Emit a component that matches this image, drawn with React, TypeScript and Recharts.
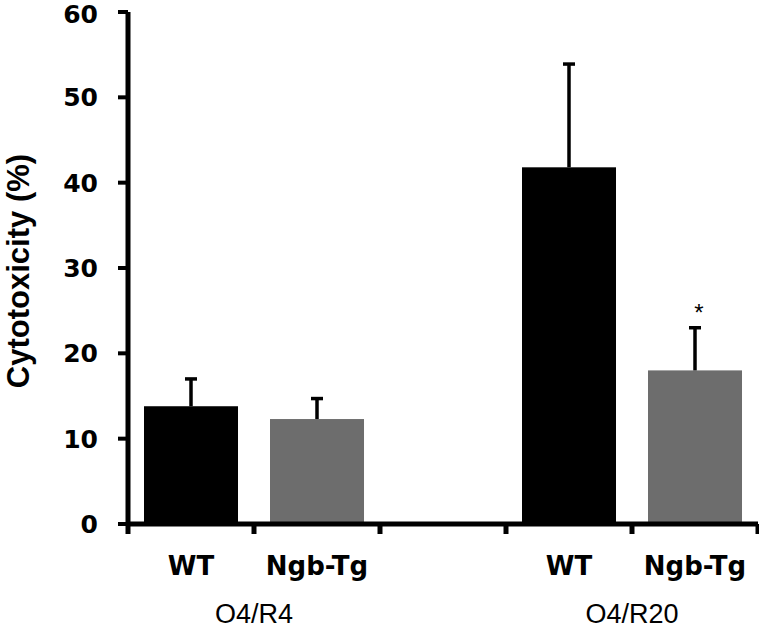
import React from 'react';
import { BarChart, Bar, XAxis, YAxis, Cell } from 'recharts';

const categories = ['WT', 'Ngb-Tg', '', 'WT', 'Ngb-Tg'];
const groupLabels = ['O4/R4', '', '', 'O4/R20', ''];
const cytotoxicity = [13.8, 12.3, null, 41.8, 18.0];
const sem = [3.2, 2.4, null, 12.1, 5.0];
const marks = ['', '', '', '', '*'];
const barColors = ['#000000', '#6d6d6d', '#000000', '#000000', '#6d6d6d'];
const yTicks = [0, 10, 20, 30, 40, 50, 60];

const data = categories.map((c, i) => ({
  key: `c${i}`,
  category: c,
  value: cytotoxicity[i],
  err: sem[i],
  mark: marks[i],
}));

const BOLD = 'DejaVu Sans, Verdana, sans-serif';
const ARIAL = 'Liberation Sans, Arial, sans-serif';

const XTick = (props: any) => {
  const { x, y, index, payload } = props;
  const half = payload && typeof payload.offset === 'number' && payload.offset > 0 ? payload.offset : 63;
  const last = index === categories.length - 1;
  return (
    <g>
      <line x1={x - half} x2={x - half} y1={y} y2={y + 10} stroke="#000" strokeWidth={5} />
      {last && <line x1={x + half} x2={x + half} y1={y} y2={y + 10} stroke="#000" strokeWidth={5} />}
      <text x={x} y={y + 51} textAnchor="middle" fontFamily={BOLD} fontWeight="bold" fontSize={26} fill="#000">
        {categories[index]}
      </text>
      {groupLabels[index] ? (
        <text x={x + half} y={y + 99} textAnchor="middle" fontFamily={ARIAL} fontSize={27} fill="#000">
          {groupLabels[index]}
        </text>
      ) : null}
    </g>
  );
};

const YTick = (props: any) => {
  const { x, y, payload } = props;
  const ty = y < 20 ? y + 2 : y;
  return (
    <text x={x} y={ty + 9} textAnchor="end" fontFamily={BOLD} fontWeight="bold" fontSize={25} fill="#000">
      {payload.value}
    </text>
  );
};

const BarWithError = (props: any) => {
  const { x, y, width, height, fill, payload } = props;
  if (!payload || payload.value == null || !height) return null;
  const pxPerUnit = height / payload.value;
  const errTop = y - payload.err * pxPerUnit;
  const cx = x + width / 2;
  return (
    <g>
      <rect x={x} y={y} width={width} height={height} fill={fill} />
      <line x1={cx} x2={cx} y1={y} y2={errTop} stroke="#000" strokeWidth={3.5} />
      <line x1={cx - 6} x2={cx + 6} y1={errTop} y2={errTop} stroke="#000" strokeWidth={3.5} />
      {payload.mark ? (
        <text x={cx + 4} y={errTop - 7} textAnchor="middle" fontFamily={ARIAL} fontSize={24} fill="#000">
          {payload.mark}
        </text>
      ) : null}
    </g>
  );
};

const YTitle = (props: any) => {
  const vb = props.viewBox || { x: 0, y: 12, width: 128, height: 512 };
  const cx = 18;
  const cy = vb.y + vb.height / 2 + 3;
  return (
    <text
      x={cx}
      y={cy}
      transform={`rotate(-90, ${cx}, ${cy})`}
      textAnchor="middle"
      dominantBaseline="central"
      fontFamily={ARIAL}
      fontWeight="bold"
      fontSize={31}
      fill="#000"
    >
      Cytotoxicity (%)
    </text>
  );
};

export default function App() {
  return (
    <div style={{ position: 'absolute', left: 0, top: 0, width: 759, height: 630, background: '#fff' }}>
      <BarChart
        width={759}
        height={630}
        data={data}
        margin={{ top: 12, right: 1, bottom: 0, left: 0 }}
        barCategoryGap="12.7%"
      >
        <XAxis
          dataKey="key"
          height={106}
          tick={<XTick />}
          tickLine={false}
          tickSize={0}
          tickMargin={0}
          axisLine={{ stroke: '#000', strokeWidth: 5 }}
          interval={0}
        />
        <YAxis
          width={128}
          domain={[0, 60]}
          ticks={yTicks}
          interval={0}
          tickSize={10}
          tickMargin={20}
          axisLine={{ stroke: '#000', strokeWidth: 5 }}
          tickLine={{ stroke: '#000', strokeWidth: 4 }}
          tick={<YTick />}
          label={<YTitle />}
        />
        <Bar dataKey="value" isAnimationActive={false} shape={<BarWithError />}>
          {data.map((d, i) => (
            <Cell key={d.key} fill={barColors[i]} />
          ))}
        </Bar>
      </BarChart>
    </div>
  );
}
